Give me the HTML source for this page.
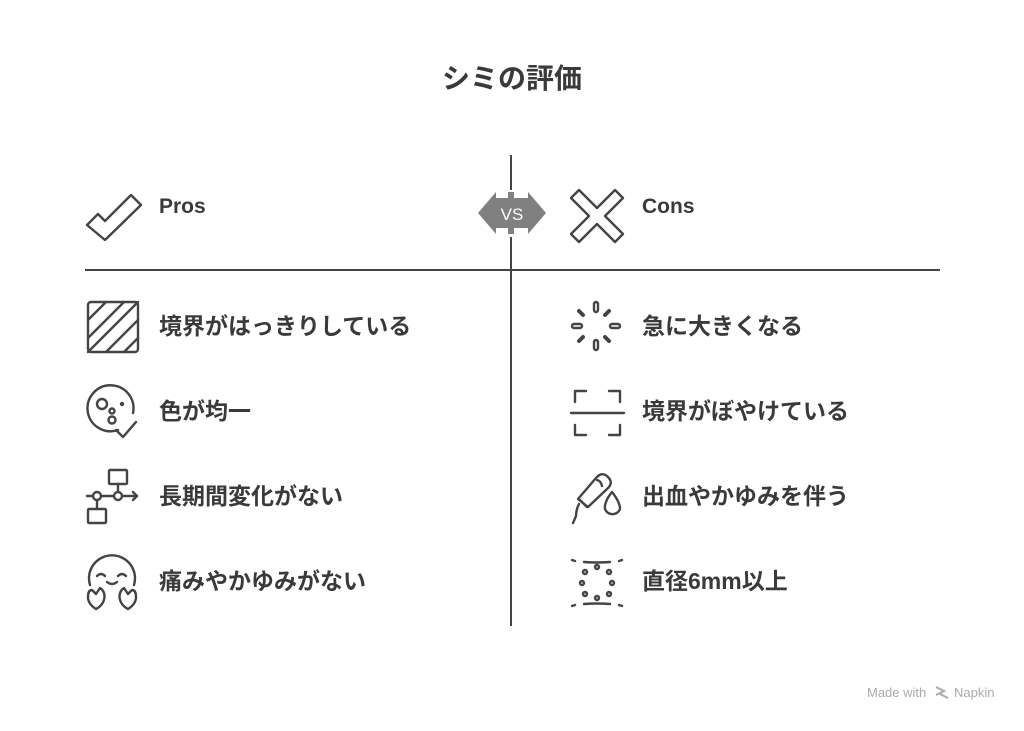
<!DOCTYPE html>
<html><head><meta charset="utf-8"><style>
body{margin:0;background:#fff;}
svg text{font-family:"Liberation Sans","Noto Sans CJK JP",sans-serif;fill:#3a3a3a;font-weight:bold;}
</style></head><body>
<svg width="1024" height="726" viewBox="0 0 1024 726" xmlns="http://www.w3.org/2000/svg">
<text x="512" y="88" font-size="28" text-anchor="middle">シミの評価</text>
<g stroke="#444" stroke-width="2" fill="none">
<line x1="511" y1="155" x2="511" y2="190"/>
<line x1="511" y1="237" x2="511" y2="626"/>
<line x1="85" y1="270" x2="940" y2="270"/>
</g>
<path d="M478,213 L496,192 L496,198 L508,198 L508,192 L514,192 L514,198 L528,198 L528,192 L546,213 L528,234 L528,228 L514,228 L514,234 L508,234 L508,228 L496,228 L496,234 Z" fill="#808080"/>
<text x="512" y="220" font-size="17" text-anchor="middle" style="fill:#fff;font-weight:normal">VS</text>
<g stroke="#444" stroke-width="2.4" fill="none" stroke-linejoin="round" stroke-linecap="round">
<path d="M87,225 L98,214 L105,221 L131,195 L141,205 L105,240 Z"/>
<path d="M571,198 L579,190 L597,208 L615,190 L623,198 L605,216 L623,234 L615,242 L597,224 L579,242 L571,234 L589,216 Z"/>
<rect x="88" y="302" width="50" height="50" rx="3"/>
<path d="M88,320 L106,302 M88,338 L124,302 M88,352 L138,302 M106,352 L138,320 M124,352 L138,338"/>
<path d="M118,430 A23,23 0 1 1 133,413"/>
<path d="M116,430 L123,437 L136,422"/>
<circle cx="102" cy="404" r="5"/><circle cx="112" cy="411" r="2.5"/><circle cx="112" cy="420" r="3.5"/><circle cx="122" cy="404" r="1"/>
<rect x="109" y="470" width="18" height="14" rx="1"/>
<rect x="88" y="509" width="18" height="14" rx="1"/>
<circle cx="97" cy="496" r="4"/><circle cx="118" cy="496" r="4"/>
<path d="M87,496 L93,496 M101,496 L114,496 M122,496 L137,496 M133,492 L137,496 L133,500 M118,484 L118,492 M97,500 L97,509"/>
<path d="M90,585 A23,23 0 1 1 134,585"/>
<path d="M97,576 Q101,572 105,576 M118,576 Q122,572 126,576 M107,582 Q112,586 117,582"/>
<path d="M96,609 Q88,604 88,597 Q88,590 92,590 L96,594 L100,588 Q106,592 104,600 Q102,606 96,609 Z"/>
<path d="M128,609 Q136,604 136,597 Q136,590 132,590 L128,594 L124,588 Q118,592 120,600 Q122,606 128,609 Z"/>
<rect x="594" y="302" width="4" height="10" rx="2"/><rect x="594" y="340" width="4" height="10" rx="2"/>
<rect x="572" y="324" width="10" height="4" rx="2"/><rect x="610" y="324" width="10" height="4" rx="2"/>
<path d="M579,311 L583,315 M609,311 L605,315 M579,341 L583,337 M609,341 L605,337" stroke-width="4"/>
<path d="M575,402 L575,391 L586,391 M609,391 L620,391 L620,402 M575,425 L575,435 L586,435 M609,435 L620,435 L620,425"/>
<line x1="571" y1="413" x2="624" y2="413"/>
<path d="M578,499 L596,478 Q602,471 608,477 Q614,483 607,489 L588,507 Z"/>
<path d="M597,480 Q601,481 602,486 M580,500 L587,507 M579,504 Q576,510 576,516 L573,523"/>
<path d="M612,492 Q604,502 605,509 A8,8 0 0 0 620,509 Q620,502 612,492 Z"/>
<path d="M572,560 L575,561 M584,562 Q597,563 610,562 M619,561 L622,560 M572,606 L575,605 M584,604 Q597,603 610,604 M619,605 L622,606"/>
<circle cx="597" cy="567" r="2"/><circle cx="597" cy="598" r="2"/><circle cx="585" cy="572" r="2"/><circle cx="609" cy="572" r="2"/>
<circle cx="582" cy="583" r="2"/><circle cx="612" cy="583" r="2"/><circle cx="585" cy="594" r="2"/><circle cx="609" cy="594" r="2"/>
</g>
<g font-size="21">
<text x="159" y="213">Pros</text>
<text x="642" y="213">Cons</text>
</g>
<g font-size="23">
<text x="159" y="334">境界がはっきりしている</text>
<text x="159" y="419">色が均一</text>
<text x="159" y="504">長期間変化がない</text>
<text x="159" y="589">痛みやかゆみがない</text>
<text x="642" y="334">急に大きくなる</text>
<text x="642" y="419">境界がぼやけている</text>
<text x="642" y="504">出血やかゆみを伴う</text>
<text x="642" y="589">直径6mm以上</text>
</g>
<text x="867" y="697" font-size="13" style="fill:#aaa;font-weight:normal">Made with</text>
<path d="M936,687 L944,691 L936,695 M940,694 L948,698" stroke="#aaa" stroke-width="2" fill="none"/>
<text x="954" y="697" font-size="13" style="fill:#aaa;font-weight:normal">Napkin</text>
</svg>
</body></html>
